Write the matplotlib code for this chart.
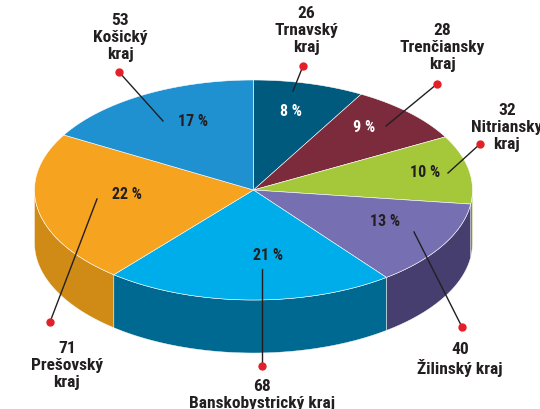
import numpy as np
import matplotlib.pyplot as plt
from matplotlib.patches import Polygon
import matplotlib.font_manager as fm

# pick a narrow bold face if one is installed
entries = fm.fontManager.ttflist
names_ = {f.name for f in entries}
STRETCH = 'normal'
if 'Roboto Condensed' in names_:
    FONT = ['Roboto Condensed', 'DejaVu Sans']
elif 'Liberation Sans Narrow' in names_:
    FONT = ['Liberation Sans Narrow', 'DejaVu Sans']
elif any(f.name == 'DejaVu Sans' and 'condensed' in str(f.stretch).lower() for f in entries):
    FONT = ['DejaVu Sans']
    STRETCH = 'condensed'
else:
    FONT = ['Roboto', 'DejaVu Sans']

# data (clockwise from the top)
regions = ['Trnavský\nkraj', 'Trenčiansky\nkraj', 'Nitriansky\nkraj', 'Žilinský kraj',
           'Banskobystrický kraj', 'Prešovský\nkraj', 'Košický\nkraj']
values = [26, 28, 32, 40, 68, 71, 53]
top_colors = ['#005a7e', '#7b2b3b', '#a5c83b', '#7670b2', '#00adeb', '#f6a41f', '#1f91d0']
side_colors = ['#00405a', '#551d28', '#7d9a28', '#463e6e', '#006991', '#d08b17', '#166a99']

# label layout (pixels): percent label, leader line end, dot, text anchor
pct_pos = [(291, 112), (364, 128), (425, 173), (385, 222), (268, 256), (127, 195), (193, 122)]
pct_col = ['white', 'white', '#231f20', '#231f20', '#231f20', '#231f20', '#231f20']
line_end = [(293, 92), (386, 127), (448, 174), (414, 233), (262, 270), (97, 200), (163, 122)]
dots = [(303, 67), (437, 85), (480, 145), (462, 328), (262, 367), (50, 323), (119, 73)]
text_pos = [(306, 6), (442, 23), (507, 103), (460, 342), (262, 379), (67, 341), (120, 13)]

cx, cy, rx, ry, depth = 253.5, 191, 219, 110, 53

fig = plt.figure(figsize=(5.4, 4.1), dpi=100)
ax = fig.add_axes([0, 0, 1, 1])
ax.set_xlim(0, 540)
ax.set_ylim(410, 0)
ax.axis('off')


def pt(th, dy=0):
    r = np.radians(th)
    return cx + rx * np.sin(r), cy - ry * np.cos(r) + dy


total = sum(values)
angles = np.concatenate([[0], np.cumsum(values) / total * 360])

# side walls (front half only)
for i in range(len(values)):
    a0, a1 = max(angles[i], 90), min(angles[i + 1], 270)
    if a1 <= a0:
        continue
    th = np.linspace(a0, a1, 80)
    upper = [pt(t) for t in th]
    lower = [pt(t, depth) for t in th[::-1]]
    ax.add_patch(Polygon(upper + lower, closed=True, facecolor=side_colors[i],
                         edgecolor='white', lw=0.3, zorder=1))

# top face
for i in range(len(values)):
    th = np.linspace(angles[i], angles[i + 1], 120)
    verts = [(cx, cy)] + [pt(t) for t in th]
    ax.add_patch(Polygon(verts, closed=True, facecolor=top_colors[i],
                         edgecolor='white', lw=0.4, zorder=2))

for i, v in enumerate(values):
    pct = round(v / total * 100)
    ax.text(*pct_pos[i], f'{pct} %', ha='center', va='center', fontsize=11.5,
            fontweight='bold', color=pct_col[i], family=FONT, fontstretch=STRETCH, zorder=4)
    ax.plot([line_end[i][0], dots[i][0]], [line_end[i][1], dots[i][1]],
            color='#231f20', lw=1, zorder=3)
    ax.plot(*dots[i], 'o', color='#e2202a', ms=5, zorder=4)
    ax.text(text_pos[i][0], text_pos[i][1], f'{v}\n{regions[i]}', ha='center', va='top',
            fontsize=12.5, fontweight='bold', color='#231f20', family=FONT,
            fontstretch=STRETCH, linespacing=1.15, zorder=4)

fig.savefig('out.png', dpi=100)
